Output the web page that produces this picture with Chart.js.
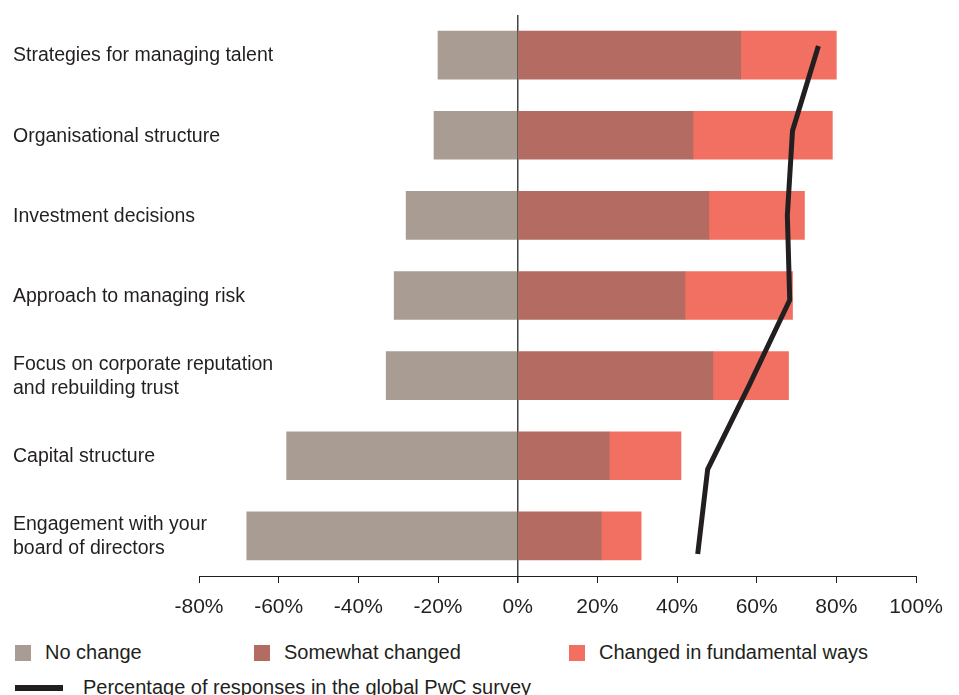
<!DOCTYPE html>
<html>
<head>
<meta charset="utf-8">
<script src="https://cdn.jsdelivr.net/npm/chart.js@4/dist/chart.umd.min.js"></script>
<style>
  html, body { margin: 0; padding: 0; background: #fff; }
  body { width: 959px; height: 695px; position: relative; overflow: hidden;
         font-family: "Liberation Sans", Arial, sans-serif; color: #231f20; }
  #wrap { position: absolute; left: 0; top: 0; width: 959px; height: 630px; }
  .lg { position: absolute; font-size: 20px; line-height: 20px; white-space: nowrap; }
  .sw { position: absolute; width: 16px; height: 16px; }
  .ln { position: absolute; width: 48px; height: 6px; background: #231f20; }
</style>
</head>
<body>
<div id="wrap"><canvas id="chart" width="959" height="630"></canvas></div>

<div class="sw" style="left:15px;top:645px;background:#a99c92"></div>
<div class="lg" style="left:45px;top:642px">No change</div>
<div class="sw" style="left:254px;top:645px;background:#b36b62"></div>
<div class="lg" style="left:284px;top:642px">Somewhat changed</div>
<div class="sw" style="left:569px;top:645px;background:#f27062"></div>
<div class="lg" style="left:599px;top:642px">Changed in fundamental ways</div>
<div class="ln" style="left:15px;top:685px"></div>
<div class="lg" style="left:83px;top:677px">Percentage of responses in the global PwC survey</div>

<script>
const categories = [
  "Strategies for managing talent",
  "Organisational structure",
  "Investment decisions",
  "Approach to managing risk",
  ["Focus on corporate reputation", "and rebuilding trust"],
  "Capital structure",
  ["Engagement with your", "board of directors"],
];
const noChange = [-20, -21, -28, -31, -33, -58, -68];
const somewhatChanged = [56, 44, 48, 42, 49, 23, 21];
const fundamentalChange = [24, 35, 24, 27, 19, 18, 10];
const surveyPct = [75.5, 69, 67.7, 68.3, 58.2, 47.7, 45.2];
const xTicks = [-80, -60, -40, -20, 0, 20, 40, 60, 80, 100];

const FONT = "'Liberation Sans', Arial, sans-serif";
const INK = "#231f20";

// category labels drawn at the y scale's tick positions, left aligned and
// allowed to run into the plot area (chart.js would clip them to the axis box)
const leftLabels = {
  id: "leftLabels",
  afterDraw(chart) {
    const ctx = chart.ctx;
    const ys = chart.scales.y;
    ctx.save();
    ctx.fillStyle = INK;
    ctx.font = "19.5px " + FONT;
    ctx.textAlign = "left";
    ctx.textBaseline = "middle";
    categories.forEach((lab, i) => {
      const lines = Array.isArray(lab) ? lab : [lab];
      const mid = ys.getPixelForTick(i) + 1;
      const lh = 24;
      lines.forEach((t, j) => {
        ctx.fillText(t, 13, mid + (j - (lines.length - 1) / 2) * lh);
      });
    });
    ctx.restore();
  },
};

new Chart(document.getElementById("chart"), {
  type: "bar",
  data: {
    labels: categories,
    datasets: [
      {
        type: "line",
        label: "Percentage of responses in the global PwC survey",
        data: surveyPct.map((v, i) => ({ x: v, y: i })),
        indexAxis: "y",
        xAxisID: "x",
        yAxisID: "yl",
        stack: "line",
        borderColor: INK,
        borderWidth: 5,
        pointRadius: 0,
        fill: false,
        tension: 0,
        order: 0,
      },
      { label: "No change", data: noChange, backgroundColor: "#a99c92", order: 1, barThickness: 48, grouped: false },
      { label: "Somewhat changed", data: somewhatChanged, backgroundColor: "#b36b62", order: 1, barThickness: 48, grouped: false },
      { label: "Changed in fundamental ways", data: fundamentalChange, backgroundColor: "#f27062", order: 1, barThickness: 48, grouped: false },
    ],
  },
  options: {
    responsive: false,
    animation: false,
    indexAxis: "y",
    layout: { padding: { top: 15, left: 13, right: 43, bottom: 14 } },
    plugins: { legend: { display: false }, tooltip: { enabled: false } },
    scales: {
      x: {
        type: "linear",
        stacked: true,
        min: -80,
        max: 100,
        z: 1,
        afterBuildTicks: (s) => { s.ticks = xTicks.map((v) => ({ value: v })); },
        afterFit: (s) => { s.height = 40; },
        border: { display: true, color: INK, width: 1 },
        grid: {
          color: (c) => (c.tick && c.tick.value === 0 ? "#444" : "rgba(0,0,0,0)"),
          lineWidth: (c) => (c.tick && c.tick.value === 0 ? 1.5 : 1),
          tickColor: INK,
          tickLength: 7,
        },
        ticks: {
          padding: 12,
          color: INK,
          font: { family: FONT, size: 21 },
          callback: (v) => v + "%",
        },
      },
      y: {
        stacked: true,
        afterFit: (s) => { s.width = 186; },
        border: { display: false },
        grid: { display: false },
        ticks: { display: false },
      },
      yl: {
        type: "linear",
        display: false,
        offset: false,
        reverse: true,
        min: -0.366,
        max: 6.26,
      },
    },
  },
  plugins: [leftLabels],
});
</script>
</body>
</html>
